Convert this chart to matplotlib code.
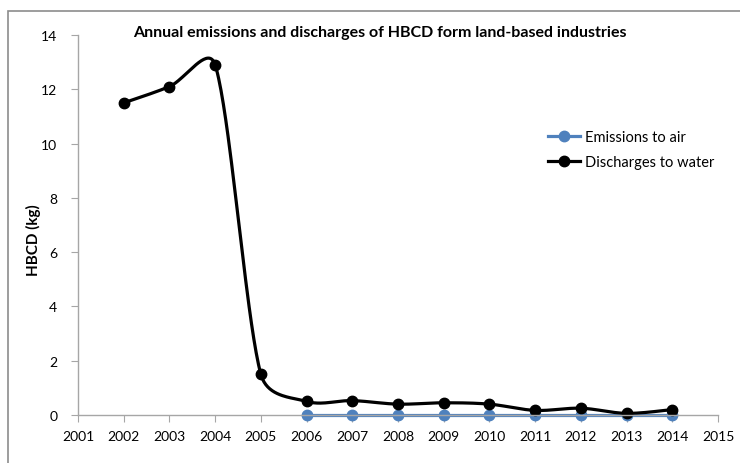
import numpy as np
import matplotlib.pyplot as plt
from matplotlib.patches import Rectangle

# data
water_years = [2002, 2003, 2004, 2005, 2006, 2007, 2008, 2009, 2010, 2011, 2012, 2013, 2014]
water_kg = [11.5, 12.1, 12.9, 1.5, 0.5, 0.53, 0.4, 0.45, 0.4, 0.17, 0.25, 0.06, 0.2]
air_years = [2006, 2007, 2008, 2009, 2010, 2011, 2012, 2013, 2014]
air_kg = [0.01, 0.01, 0.01, 0.01, 0.01, 0.01, 0.01, 0.01, 0.01]
series_labels = ["Emissions to air", "Discharges to water"]
title = "Annual emissions and discharges of HBCD form land-based industries"

FONT = "Lato"
BLUE = "#4F81BD"
GRAY = "#A6A6A6"


def _limit(vec, max_len):
	length = np.hypot(*vec)
	if length > max_len and length > 0:
		return vec * (max_len / length)
	return vec


def smooth_curve(ax, xs, ys, steps=40, ratio=0.45):
	"""Excel-like smoothed line: cubic Bezier through points, built in pixel space."""
	pts = ax.transData.transform(np.column_stack([xs, ys]))
	n = len(pts)
	out = [pts[0]]
	for i in range(n - 1):
		p0 = pts[i - 1] if i > 0 else pts[i]
		p1 = pts[i]
		p2 = pts[i + 1]
		p3 = pts[i + 2] if i + 2 < n else pts[i + 1]
		seg_len = np.hypot(*(p2 - p1))
		c1 = p1 + _limit((p2 - p0) / 6.0, ratio * seg_len)
		c2 = p2 - _limit((p3 - p1) / 6.0, ratio * seg_len)
		t = np.linspace(0, 1, steps)[1:, None]
		seg = ((1 - t) ** 3) * p1 + 3 * ((1 - t) ** 2) * t * c1 + 3 * (1 - t) * t ** 2 * c2 + t ** 3 * p2
		out.extend(seg)
	out = np.array(out)
	data = ax.transData.inverted().transform(out)
	return data[:, 0], data[:, 1]


fig = plt.figure(figsize=(7.4, 4.64), dpi=100)
fig.patches.append(Rectangle((8 / 740, -0.1), 1.1, 1 - 12 / 464 + 0.1, transform=fig.transFigure,
	fill=False, edgecolor="#8C8C8C", linewidth=1.2))
ax = fig.add_axes([78 / 740, 1 - 416 / 464, 640 / 740, 380 / 464])
ax.set_xlim(2001, 2015)
ax.set_ylim(0, 14)

for years, vals, color, label in [
	(air_years, air_kg, BLUE, series_labels[0]),
	(water_years, water_kg, "black", series_labels[1]),
]:
	sx, sy = smooth_curve(ax, years, vals)
	ax.plot(sx, sy, color=color, linewidth=2.3, clip_on=False, solid_capstyle="round")
	ax.plot(years, vals, linestyle="none", marker="o", markersize=7.5, color=color, clip_on=False)
	ax.plot([], [], color=color, linewidth=2.3, marker="o", markersize=7.5, label=label)

ax.set_xticks(range(2001, 2016))
ax.set_yticks(range(0, 15, 2))
for side in ["top", "right"]:
	ax.spines[side].set_visible(False)
for side in ["left", "bottom"]:
	ax.spines[side].set_color(GRAY)
	ax.spines[side].set_linewidth(1.0)
ax.tick_params(direction="out", length=5, color=GRAY, labelsize=10, pad=4)
for lbl in ax.get_xticklabels() + ax.get_yticklabels():
	lbl.set_fontfamily(FONT)
ax.xaxis.set_tick_params(pad=6)
ax.yaxis.set_tick_params(pad=10)

fig.text(33 / 740, 1 - 240 / 464, "HBCD (kg)", ha="center", va="center", rotation=90,
	fontsize=11, fontweight="bold", fontfamily=FONT)
fig.text(380 / 740, 1 - 33 / 464, title, ha="center", va="center", fontsize=11.5,
	fontweight="bold", fontfamily=FONT)

leg = ax.legend(loc="upper left", frameon=False, prop={"family": FONT, "size": 10.5},
	handlelength=2.2, handletextpad=0.3, labelspacing=0.75, borderpad=0)
leg.set_bbox_to_anchor(((555 - 78 - 14) / 640, (416 - 124) / 380), transform=ax.transAxes)

fig.savefig("out.png", dpi=100)
